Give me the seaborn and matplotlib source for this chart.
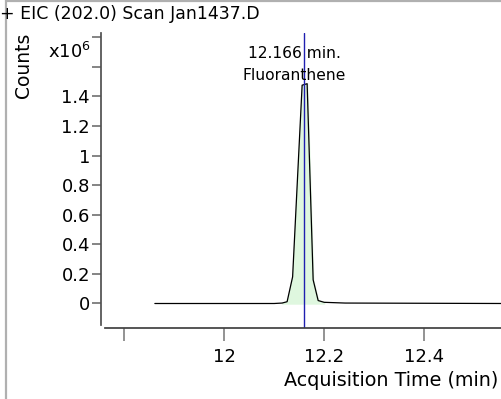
import numpy as np
import pandas as pd
import matplotlib
matplotlib.use("Agg")
import matplotlib.pyplot as plt
import seaborn as sns
from matplotlib.lines import Line2D

# chromatogram trace (time in min, counts in 1e6)
times = [11.862, 12.10, 12.116, 12.126, 12.137, 12.156, 12.166, 12.178, 12.188, 12.20, 12.242, 12.56]
counts = [0.0, 0.0, 0.003, 0.012, 0.18, 1.476, 1.486, 0.16, 0.02, 0.008, 0.003, 0.0]
peak_start, peak_end = 12.116, 12.20
rt_marker = 12.16
peak_time_label = "12.166 min."
peak_name = "Fluoranthene"
title = "+ EIC (202.0) Scan Jan1437.D"
x_ticks = [11.8, 12.0, 12.2, 12.4]
x_labels = ["", "12", "12.2", "12.4"]
y_ticks = [0, 0.2, 0.4, 0.6, 0.8, 1.0, 1.2, 1.4, 1.6, 1.8]
y_labels = ["0", "0.2", "0.4", "0.6", "0.8", "1", "1.2", "1.4", "", ""]

df = pd.DataFrame({"time": times, "counts": counts})

sns.set_theme(style="white")
plt.rcParams["font.family"] = ["DejaVu Sans"]
plt.rcParams["text.color"] = "black"
plt.rcParams["xtick.labelcolor"] = "black"
plt.rcParams["ytick.labelcolor"] = "black"

fig = plt.figure(figsize=(5.02, 3.99), dpi=100)
ax = fig.add_axes([0.2012, 0.178, 0.7988, 0.739])

sns.lineplot(data=df, x="time", y="counts", ax=ax, color="black", linewidth=0.9)
pk = df[(df["time"] >= peak_start) & (df["time"] <= peak_end)]
ax.fill_between(pk["time"], pk["counts"], 0, color="#dff7df", zorder=0)
ax.axvline(rt_marker, color="#1f1fb0", linewidth=1.0)

ax.set_xlim(11.7545, 12.555)
ax.set_ylim(-0.1655, 1.828)
ax.set_xticks(x_ticks)
ax.set_xticklabels(x_labels)
ax.set_yticks(y_ticks)
ax.set_yticklabels(y_labels)
ax.set_xlabel("")
ax.set_ylabel("")

for s in ["top", "right"]:
    ax.spines[s].set_visible(False)
ax.spines["left"].set_color("#505050")
ax.spines["bottom"].set_color("#404040")
ax.spines["left"].set_bounds(-0.145, 1.828)
ax.spines["bottom"].set_bounds(11.762, 12.555)

ax.tick_params(axis="x", bottom=True, length=9.4, width=1.2, color="#808080",
               pad=5, labelsize=13)
ax.tick_params(axis="y", left=True, length=6.5, width=1.2, color="#707070",
               pad=1.5, labelsize=13)

# peak annotation
ax.text(12.1397, 1.659, peak_time_label, ha="center", va="baseline", fontsize=11.2)
ax.text(12.1397, 1.510, peak_name, ha="center", va="baseline", fontsize=11.2)

fig.text(0.0, 0.965, title, ha="left", va="center", fontsize=12.5)
fig.text(0.046, 0.837, "Counts", rotation=90, ha="center", va="center", fontsize=13.5)
fig.text(0.182, 0.87, r"x10$^6$", ha="right", va="center", fontsize=13)
fig.text(0.993, 0.046, "Acquisition Time (min)", ha="right", va="center", fontsize=13.8)

# outer frame
fig.add_artist(Line2D([0.011, 0.011], [0, 1], transform=fig.transFigure,
                      color="#b0b0b0", linewidth=1.6))
fig.add_artist(Line2D([0.011, 1], [0.998, 0.998], transform=fig.transFigure,
                      color="#b0b0b0", linewidth=1.6))

fig.savefig("out.png", dpi=100)
